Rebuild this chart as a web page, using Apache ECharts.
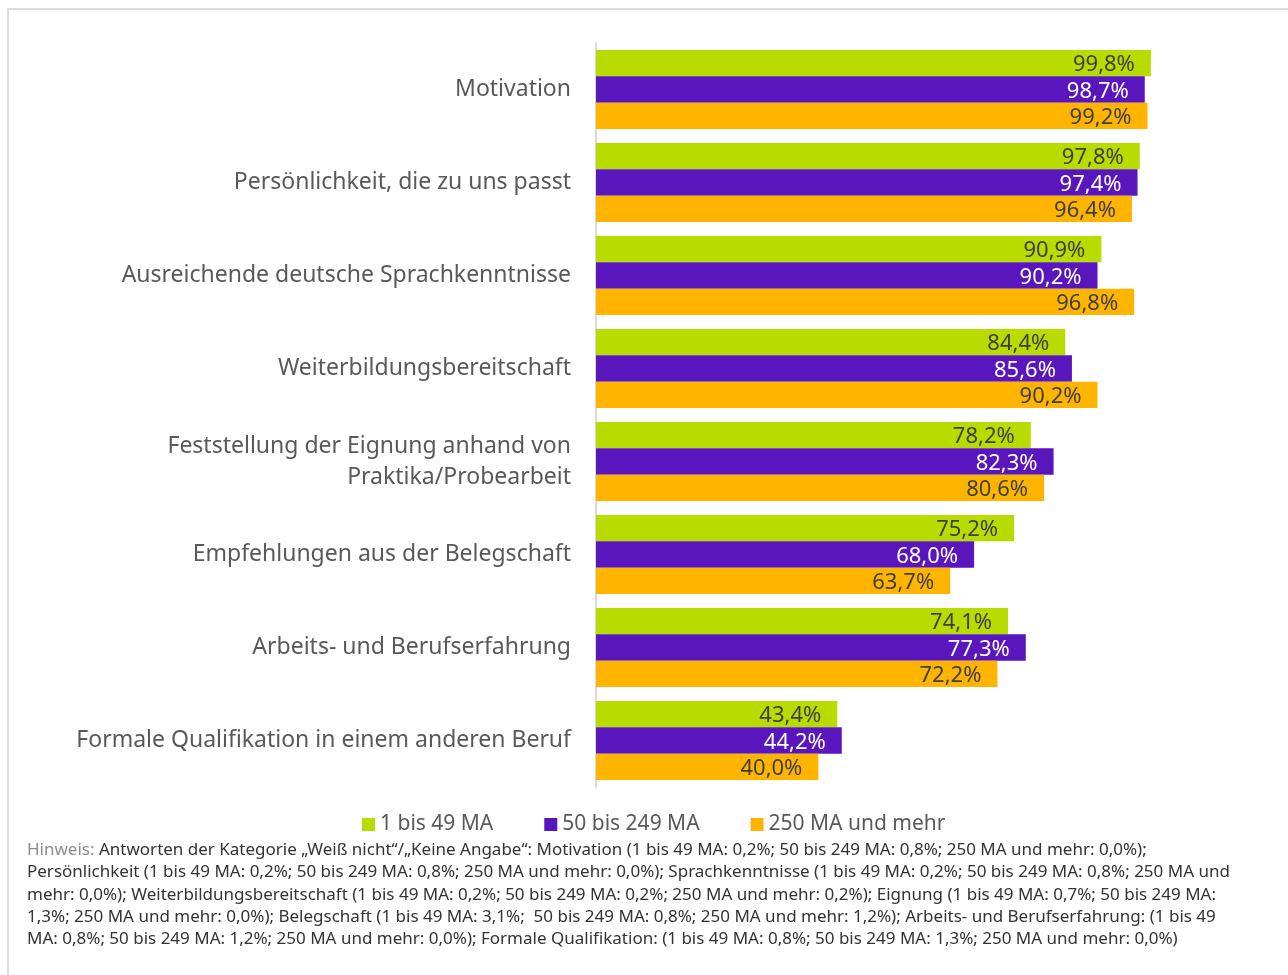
<!DOCTYPE html>
<html>
<head>
<meta charset="utf-8">
<script src="https://cdn.jsdelivr.net/npm/echarts@6/dist/echarts.min.js"></script>
<style>
html,body{margin:0;padding:0;background:#fff;}
#frame{position:absolute;left:7px;top:8px;width:1300px;height:1000px;border-left:2px solid #dcdcdc;border-top:2px solid #dcdcdc;box-sizing:border-box;}
#chart{position:absolute;left:0;top:0;width:1288px;height:975px;}
#note{position:absolute;left:27px;top:838px;font-family:"Noto Sans",sans-serif;font-size:17px;line-height:22.3px;color:#333;white-space:nowrap;}
#note .h{color:#8c8c8c;}
</style>
</head>
<body>
<div id="frame"></div>
<div id="chart"></div>
<div id="note"><span class="h">Hinweis:</span> Antworten der Kategorie „Weiß nicht“/„Keine Angabe“: Motivation (1 bis 49 MA: 0,2%; 50 bis 249 MA: 0,8%; 250 MA und mehr: 0,0%);<br>Persönlichkeit (1 bis 49 MA: 0,2%; 50 bis 249 MA: 0,8%; 250 MA und mehr: 0,0%); Sprachkenntnisse (1 bis 49 MA: 0,2%; 50 bis 249 MA: 0,8%; 250 MA und<br>mehr: 0,0%); Weiterbildungsbereitschaft (1 bis 49 MA: 0,2%; 50 bis 249 MA: 0,2%; 250 MA und mehr: 0,2%); Eignung (1 bis 49 MA: 0,7%; 50 bis 249 MA:<br>1,3%; 250 MA und mehr: 0,0%); Belegschaft (1 bis 49 MA: 3,1%;&nbsp; 50 bis 249 MA: 0,8%; 250 MA und mehr: 1,2%); Arbeits- und Berufserfahrung: (1 bis 49<br>MA: 0,8%; 50 bis 249 MA: 1,2%; 250 MA und mehr: 0,0%); Formale Qualifikation: (1 bis 49 MA: 0,8%; 50 bis 249 MA: 1,3%; 250 MA und mehr: 0,0%)</div>
<script>
const categories = [
  "Motivation",
  "Persönlichkeit, die zu uns passt",
  "Ausreichende deutsche Sprachkenntnisse",
  "Weiterbildungsbereitschaft",
  "Feststellung der Eignung anhand von\nPraktika/Probearbeit",
  "Empfehlungen aus der Belegschaft",
  "Arbeits- und Berufserfahrung",
  "Formale Qualifikation in einem anderen Beruf"
];
const seriesNames = ["1 bis 49 MA", "50 bis 249 MA", "250 MA und mehr"];
const small = [99.8, 97.8, 90.9, 84.4, 78.2, 75.2, 74.1, 43.4];
const medium = [98.7, 97.4, 90.2, 85.6, 82.3, 68.0, 77.3, 44.2];
const large = [99.2, 96.4, 96.8, 90.2, 80.6, 63.7, 72.2, 40.0];

const colors = ["#b9dc00", "#5a16bd", "#ffb400"];
const labelColors = ["#3f3f3f", "#ffffff", "#3f3f3f"];
const FONT = '"Noto Sans", sans-serif';
const fmt = p => p.value.toFixed(1).replace('.', ',') + '%';

const chart = echarts.init(document.getElementById('chart'));
const mk = (name, data, i) => ({
  name, type: 'bar', data,
  barGap: '0%', barCategoryGap: '15%',
  itemStyle: { color: colors[i] },
  label: {
    show: true, position: 'insideRight', distance: 16, offset: [0, 2],
    formatter: fmt, color: labelColors[i],
    fontFamily: FONT, fontSize: 22
  }
});
chart.setOption({
  animation: false,
  color: colors,
  grid: { left: 596, top: 43, width: 556, height: 744 },
  xAxis: { type: 'value', min: 0, max: 100, show: false },
  yAxis: {
    type: 'category', data: categories, inverse: true,
    axisLine: { show: true, lineStyle: { color: '#d9d9d9', width: 2 } },
    axisTick: { show: false },
    axisLabel: { margin: 25, color: '#595959', fontFamily: FONT, fontSize: 23, lineHeight: 31, padding: [4, 0, 0, 0] }
  },
  legend: {
    top: 809, left: 357, itemWidth: 13, itemHeight: 13, itemGap: 51,
    icon: 'rect',
    textStyle: { color: '#595959', fontFamily: FONT, fontSize: 21 },
    data: seriesNames
  },
  series: [mk(seriesNames[0], small, 0), mk(seriesNames[1], medium, 1), mk(seriesNames[2], large, 2)]
});
</script>
</body>
</html>
